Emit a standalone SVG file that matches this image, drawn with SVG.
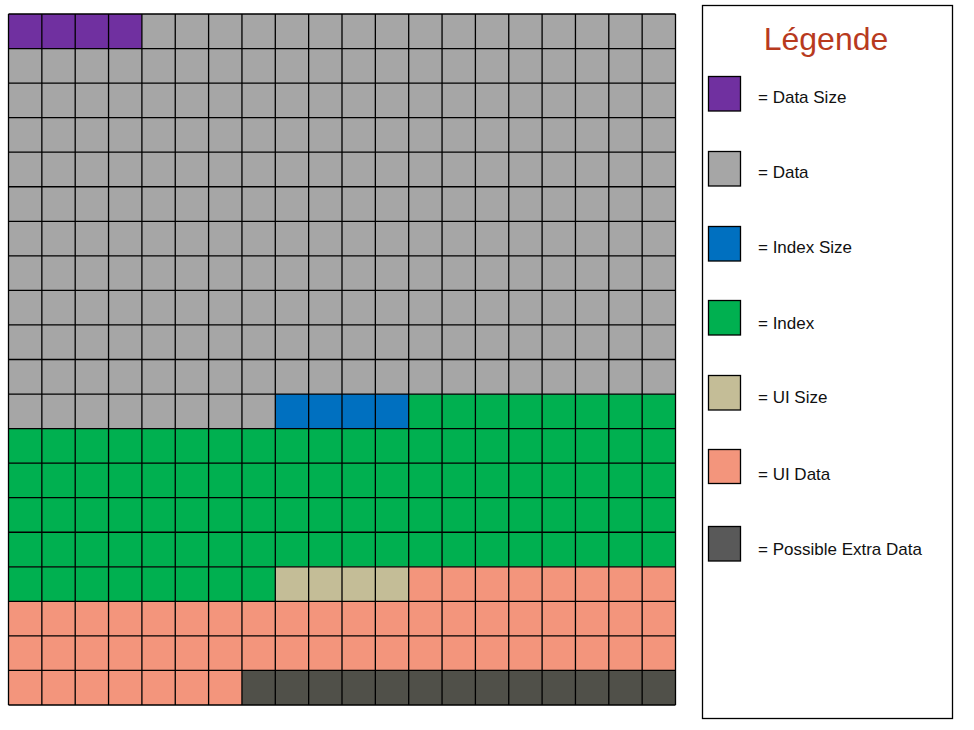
<svg xmlns="http://www.w3.org/2000/svg" width="974" height="730" viewBox="0 0 974 730">
<style>
.lbl{font-family:"Liberation Sans",Arial,sans-serif;font-size:17px;fill:#111}
.title{font-family:"Liberation Sans",Arial,sans-serif;font-size:32px;fill:#B83A1E}
.sw{stroke:#000;stroke-width:1.3}
.grid{fill:none;stroke:#000;stroke-width:1.3}
</style>
<rect width="974" height="730" fill="#fff"/>
<g id="grid">
<rect x="8.5" y="14" width="667" height="414.6" fill="#A6A6A6"/>
<rect x="8.5" y="14" width="133.4" height="34.55" fill="#7030A0"/>
<rect x="275.3" y="394.05" width="133.4" height="34.55" fill="#0070C0"/>
<rect x="408.7" y="394.05" width="266.8" height="34.55" fill="#00B050"/>
<rect x="8.5" y="428.6" width="667" height="138.2" fill="#00B050"/>
<rect x="8.5" y="566.8" width="266.8" height="34.55" fill="#00B050"/>
<rect x="275.3" y="566.8" width="133.4" height="34.55" fill="#C4BD97"/>
<rect x="408.7" y="566.8" width="266.8" height="34.55" fill="#F3957C"/>
<rect x="8.5" y="601.35" width="667" height="69.1" fill="#F3957C"/>
<rect x="8.5" y="670.45" width="233.45" height="34.55" fill="#F3957C"/>
<rect x="241.95" y="670.45" width="433.55" height="34.55" fill="#505049"/>
<path class="grid" d="M8.5 14V705M41.85 14V705M75.2 14V705M108.55 14V705M141.9 14V705M175.25 14V705M208.6 14V705M241.95 14V705M275.3 14V705M308.65 14V705M342 14V705M375.35 14V705M408.7 14V705M442.05 14V705M475.4 14V705M508.75 14V705M542.1 14V705M575.45 14V705M608.8 14V705M642.15 14V705M675.5 14V705M8.5 14H675.5M8.5 48.55H675.5M8.5 83.1H675.5M8.5 117.65H675.5M8.5 152.2H675.5M8.5 186.75H675.5M8.5 221.3H675.5M8.5 255.85H675.5M8.5 290.4H675.5M8.5 324.95H675.5M8.5 359.5H675.5M8.5 394.05H675.5M8.5 428.6H675.5M8.5 463.15H675.5M8.5 497.7H675.5M8.5 532.25H675.5M8.5 566.8H675.5M8.5 601.35H675.5M8.5 635.9H675.5M8.5 670.45H675.5M8.5 705H675.5"/>
</g>
<g id="legend">
<rect x="702.5" y="5.5" width="250" height="713" fill="#fff" stroke="#000" stroke-width="1.3"/>
<text class="title" x="826" y="50" text-anchor="middle">Légende</text>
<g id="leg-datasize"><rect class="sw" x="708.5" y="76.5" width="32" height="34.5" fill="#7030A0"/><text class="lbl" x="758" y="103">= Data Size</text></g>
<g id="leg-data"><rect class="sw" x="708.5" y="151.5" width="32" height="34.5" fill="#A6A6A6"/><text class="lbl" x="758" y="178">= Data</text></g>
<g id="leg-indexsize"><rect class="sw" x="708.5" y="226.5" width="32" height="34.5" fill="#0070C0"/><text class="lbl" x="758" y="253">= Index Size</text></g>
<g id="leg-index"><rect class="sw" x="708.5" y="300.5" width="32" height="34.5" fill="#00B050"/><text class="lbl" x="758" y="329">= Index</text></g>
<g id="leg-uisize"><rect class="sw" x="708.5" y="375.5" width="32" height="34.5" fill="#C4BD97"/><text class="lbl" x="758" y="403">= UI Size</text></g>
<g id="leg-uidata"><rect class="sw" x="708.5" y="449.5" width="32" height="34" fill="#F3957C"/><text class="lbl" x="758" y="480">= UI Data</text></g>
<g id="leg-extra"><rect class="sw" x="708.5" y="526.5" width="32" height="34.5" fill="#595959"/><text class="lbl" x="758" y="555">= Possible Extra Data</text></g>
</g>
</svg>
